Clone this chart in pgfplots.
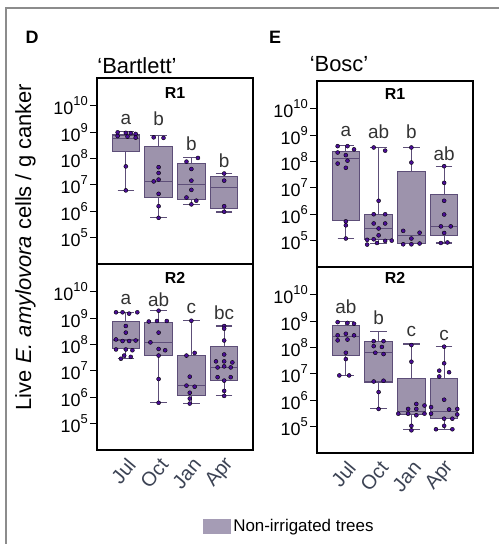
\documentclass[border=0pt]{standalone}
\usepackage{pgfplots}
\pgfplotsset{compat=1.18}
\usepgfplotslibrary{statistics}
\usepackage{fontspec}
\setmainfont{Liberation Sans}

\definecolor{boxfill}{HTML}{9D93AC}
\definecolor{boxedge}{HTML}{5D4E78}
\definecolor{dotc}{HTML}{4A0E95}
\definecolor{xlab}{HTML}{3C4354}
\definecolor{lettc}{HTML}{333333}
\definecolor{legfill}{HTML}{A59CB5}
\definecolor{framec}{HTML}{8C8C8C}

\newcommand{\fs}[1]{\fontsize{#1}{#1}\selectfont}
\newcommand{\pw}[1]{10\raisebox{0.5em}{\fs{13}#1}}

% one box per month, values are log10(cells / g canker)
\newcommand{\bx}[6]{\addplot[draw=boxedge, fill=boxfill, line width=1.1bp, solid,
  boxplot prepared={draw position=#1, lower whisker=#2, lower quartile=#3,
  median=#4, upper quartile=#5, upper whisker=#6}] coordinates {};}
\newcommand{\lett}[3]{\node[font=\fs{19}, text=lettc] at (axis cs:#1,#2) {#3};}

\tikzset{paneltitle/.style={font=\bfseries\fs{16}}}

\pgfplotsset{
  panel/.style={
    scale only axis, width=156bp, height=186bp,
    xmin=0.12, xmax=4.88, ymin=4, ymax=11.05,
    axis line style={line width=1.5bp, black},
    ytick={5,6,7,8,9,10},
    yticklabels={\pw{5},\pw{6},\pw{7},\pw{8},\pw{9},\pw{10}},
    yticklabel style={font=\fs{18}, text=black, inner sep=2bp},
    ytick pos=left, tick align=outside, major tick length=7bp,
    ytick style={line width=1bp, black},
    xtick={1,2,3,4}, xtick style={draw=none},
    boxplot/draw direction=y, boxplot/box extend=0.84, boxplot/whisker extend=0.5,
    clip=false,
  },
  toppanel/.style={panel, xticklabels={}},
  botpanel/.style={panel, xticklabels={Jul,Oct,Jan,Apr},
    xticklabel style={rotate=50, anchor=east, font=\fs{20}, text=xlab, xshift=4bp, yshift=-7bp}},
  dots/.style={only marks, mark=*, mark size=2bp, mark options={fill=dotc, draw=none}},
}

\begin{document}
\begin{tikzpicture}
\path[use as bounding box] (0bp,0bp) rectangle (499bp,-544bp);
\draw[framec, line width=2bp] (6bp,-544bp) -- (6bp,-8bp) -- (499bp,-8bp);

\node[font=\bfseries\fs{18}] at (32bp,-37bp) {D};
\node[font=\bfseries\fs{18}] at (275bp,-37bp) {E};
\node[font=\fs{22}] at (137bp,-66bp) {‘Bartlett’};
\node[font=\fs{22}] at (339bp,-64bp) {‘Bosc’};
\node[font=\fs{22}, rotate=90, anchor=base] at (31bp,-247bp) {Live \textit{E. amylovora} cells / g canker};

% Bartlett, R1
\begin{axis}[toppanel, at={(97bp,-78bp)}, anchor=north west]
\bx{1}{6.79}{8.26}{8.77}{8.89}{9.01}
\bx{2}{5.75}{6.51}{7.13}{8.46}{8.86}
\bx{3}{6.25}{6.45}{7.00}{7.82}{8.03}
\bx{4}{5.97}{6.09}{6.91}{7.33}{7.43}
\addplot[dots] coordinates {
(0.75,8.99) (1.0,8.97) (1.15,8.96) (1.3,8.93) (0.75,8.85) (1.05,8.83) (1.3,8.79) (1.0,7.70) (1.0,6.79)
(1.85,8.80) (2.15,8.78) (2.0,7.67) (2.0,7.45) (2.0,7.20) (1.85,7.13) (2.0,6.66) (2.0,6.19) (2.0,5.75)
(3.2,8.02) (2.85,7.88) (3.0,7.60) (3.0,7.16) (3.0,6.81) (2.85,6.52) (3.15,6.40) (3.0,6.26)
(4.0,7.43) (4.0,7.16) (4.0,6.19) (4.0,5.98)
};
\node[paneltitle] at (rel axis cs:0.5,1) [yshift=-15bp] {R1};
\lett{1}{9.49}{a}\lett{2}{9.49}{b}\lett{3}{8.55}{b}\lett{4}{7.91}{b}
\end{axis}

% Bartlett, R2
\begin{axis}[botpanel, at={(97bp,-264bp)}, anchor=north west,
  legend style={draw=none, fill=none, at={(axis description cs:0.68,-0.409)}, anchor=west,
    font=\fs{17}, inner sep=0pt, legend cell align=left},
  legend image code/.code={\fill[#1] (0bp,-7.5bp) rectangle (28bp,7.5bp);}]
\addlegendimage{fill=legfill, draw=none}
\addlegendentry{Non-irrigated trees}
\bx{1}{7.46}{7.85}{8.17}{8.87}{9.22}
\bx{2}{5.79}{7.58}{8.06}{8.83}{9.28}
\bx{3}{5.76}{6.08}{6.44}{7.58}{8.90}
\bx{4}{6.05}{6.63}{7.13}{7.91}{8.70}
\addplot[dots] coordinates {
(0.7,9.22) (0.9,9.22) (1.1,9.17) (1.35,9.22) (1.0,8.70) (1.0,8.45) (0.7,8.19) (0.9,8.13) (1.1,8.13) (1.3,8.15)
(0.7,7.81) (1.0,7.81) (1.2,7.78) (0.95,7.58) (1.15,7.53) (0.85,7.46)
(2.0,9.28) (1.7,8.87) (1.95,8.89) (2.25,8.89) (2.0,8.45) (1.75,8.08) (2.0,7.83) (2.2,7.78) (2.0,7.58) (2.0,6.69) (2.0,5.79)
(3.0,8.90) (2.85,7.58) (3.1,7.68) (2.95,6.78) (2.85,6.44) (3.1,6.40) (2.95,6.17) (2.95,5.95) (2.95,5.76)
(4.0,8.70) (4.0,8.60) (4.0,8.15) (4.0,7.62) (3.75,7.36) (4.0,7.36) (4.25,7.32) (3.8,7.13) (4.0,7.17) (4.2,7.13)
(3.8,6.76) (4.2,6.76) (4.0,6.63) (4.0,6.24) (4.0,6.05)
};
\node[paneltitle] at (rel axis cs:0.5,1) [yshift=-14bp] {R2};
\lett{1}{9.70}{a}\lett{2}{9.70}{ab}\lett{3}{9.35}{c}\lett{4}{9.20}{bc}
\end{axis}

% Bosc, R1
\begin{axis}[toppanel, at={(317bp,-81bp)}, anchor=north west]
\bx{1}{5.08}{5.77}{8.11}{8.37}{8.60}
\bx{2}{4.89}{5.05}{5.46}{5.99}{8.53}
\bx{3}{4.89}{4.89}{5.20}{7.63}{8.53}
\bx{4}{4.91}{5.18}{5.54}{6.76}{7.82}
\addplot[dots] coordinates {
(0.75,8.58) (1.05,8.58) (1.25,8.46) (0.75,8.34) (1.0,8.24) (0.75,7.92) (1.05,8.03) (1.0,7.76) (1.0,5.73) (1.0,5.58) (1.0,5.08)
(1.85,8.53) (2.2,8.41) (2.0,6.51) (1.85,6.0) (2.2,6.0) (1.85,5.65) (2.2,5.65) (2.0,5.46) (2.0,5.20)
(1.65,5.03) (1.85,5.05) (2.2,4.99) (1.65,4.85) (1.95,4.91) (2.4,5.00)
(3.0,8.53) (3.0,7.96) (2.75,5.37) (3.25,5.30) (3.0,5.08) (2.75,4.86) (3.0,4.86) (3.25,4.89)
(4.0,7.82) (4.0,7.19) (4.0,6.51) (4.0,5.99) (3.9,5.54) (4.2,5.54) (4.0,5.29) (3.9,4.91) (4.1,4.93)
};
\node[paneltitle] at (rel axis cs:0.5,1) [yshift=-13bp] {R1};
\lett{1}{9.13}{a}\lett{2}{9.13}{ab}\lett{3}{9.13}{b}\lett{4}{8.28}{ab}
\end{axis}

% Bosc, R2
\begin{axis}[botpanel, at={(317bp,-267bp)}, anchor=north west]
\bx{1}{6.94}{7.71}{8.40}{8.84}{9.00}
\bx{2}{5.67}{6.69}{7.80}{8.21}{8.61}
\bx{3}{4.88}{5.46}{5.59}{6.84}{8.13}
\bx{4}{4.90}{5.30}{5.59}{6.84}{8.03}
\addplot[dots] coordinates {
(0.75,8.96) (1.05,8.93) (1.25,8.90) (1.0,8.52) (0.75,8.46) (1.25,8.46) (0.75,8.27) (1.05,8.30) (1.0,7.80) (1.0,7.56) (0.8,6.94) (1.1,6.94)
(1.85,8.24) (2.15,8.24) (1.85,8.05) (2.1,8.02) (1.9,7.80) (2.15,7.75) (1.85,6.71) (2.15,6.74) (2.0,6.31) (2.0,5.67)
(3.0,8.09) (3.0,7.46) (3.15,5.86) (3.4,5.80) (2.9,5.67) (3.15,5.67) (2.6,5.49) (2.9,5.49) (3.15,5.43) (3.4,5.49) (3.0,5.03) (3.0,4.86)
(4.0,8.03) (4.0,7.40) (3.85,7.12) (4.15,7.06) (3.85,6.90) (4.0,6.02) (3.6,5.74) (4.15,5.65) (4.4,5.67) (3.6,5.49) (4.4,5.46)
(4.0,5.30) (4.25,5.30) (4.0,5.03) (3.75,4.90) (4.25,4.90)
};
\node[paneltitle] at (rel axis cs:0.5,1) [yshift=-11bp] {R2};
\lett{1}{9.53}{ab}\lett{2}{9.13}{b}\lett{3}{8.59}{c}\lett{4}{8.46}{c}
\end{axis}
\end{tikzpicture}
\end{document}
